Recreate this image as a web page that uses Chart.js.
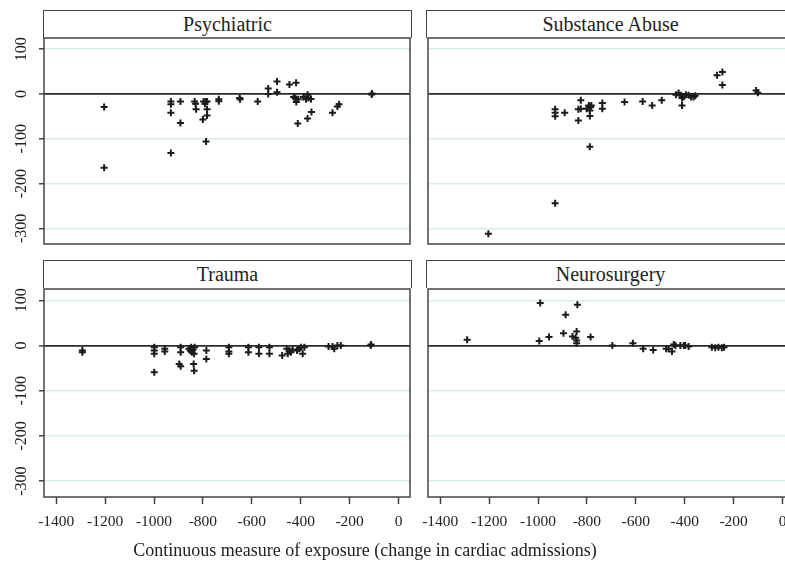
<!DOCTYPE html>
<html>
<head>
<meta charset="utf-8">
<script src="https://cdn.jsdelivr.net/npm/chart.js@4.4.1/dist/chart.umd.min.js"></script>
<style>
    html, body { margin: 0; padding: 0; background: #fff; }
    body { width: 785px; height: 564px; overflow: hidden; position: relative; font-family: "Liberation Serif", serif; color: #222; }
    canvas { position: absolute; }
    .title { position: absolute; box-sizing: border-box; border: 1.5px solid #444; border-bottom: none; height: 28px; width: 369px; text-align: center; font-size: 20px; line-height: 26px; }
    #xtitle { position: absolute; left: 0; width: 730px; top: 540px; text-align: center; font-size: 18px; }
</style>
</head>
<body>
<div class="title" style="left:43px; top:10px;">Psychiatric</div>
<div class="title" style="left:426px; top:10px;">Substance Abuse</div>
<div class="title" style="left:43px; top:260px;">Trauma</div>
<div class="title" style="left:426px; top:260px;">Neurosurgery</div>
<canvas id="psych" width="416" height="218" style="left:0; top:32px;"></canvas>
<canvas id="subst" width="378" height="218" style="left:422px; top:32px;"></canvas>
<canvas id="trauma" width="416" height="281" style="left:0; top:283px;"></canvas>
<canvas id="neuro" width="378" height="281" style="left:422px; top:283px;"></canvas>
<div id="xtitle">Continuous measure of exposure (change in cardiac admissions)</div>
<script>
// 軸
const xTicks = [-1400, -1200, -1000, -800, -600, -400, -200, 0];
const yTicks = [100, 0, -100, -200, -300];
const xMin = -1450, xMax = 47;
const yMin = -335, yMax = 125;

// Psychiatric
const psychX = [-1204, -1204, -931, -931, -931, -931, -892, -892, -834, -830, -828, -800, -797, -789, -783, -783, -783, -787, -792,
    -735, -735, -650, -648, -576, -533, -533, -497, -497, -446, -419, -429, -422, -418, -410, -412, -389, -378, -372, -368, -358,
    -372, -356, -270, -250, -243, -110, -108];
const psychY = [-29, -165, -17, -23, -42, -132, -17, -65, -17, -22, -34, -57, -17, -17, -17, -34, -48, -106, -22,
    -12, -16, -9, -12, -17, 12, 0, 28, 4, 21, 25, -7, -9, -18, -12, -66, -7, -12, -2, -9, -11,
    -55, -40, -42, -28, -23, -1, 1];

// Substance Abuse
const substX = [-1203, -930, -930, -930, -930, -891, -825, -835, -825, -835, -801, -792, -785, -782, -788, -788, -788,
    -737, -737, -646, -572, -533, -494, -436, -425, -418, -411, -404, -395, -384, -374, -364, -357, -411,
    -268, -246, -246, -108, -101];
const substY = [-312, -244, -34, -42, -50, -42, -14, -34, -33, -59, -33, -26, -29, -26, -37, -49, -118,
    -20, -33, -18, -17, -26, -14, -2, 2, -3, -9, -6, -2, -3, -7, -7, -4, -26,
    42, 49, 20, 8, 3];

// Trauma
const traumaX = [-1293, -1293, -999, -999, -999, -999, -956, -956, -891, -891, -897, -891, -857, -852, -848, -845, -840, -836,
    -834, -838, -836, -786, -786, -694, -694, -694, -614, -614, -571, -571, -528, -528, -476, -457, -453, -447, -440,
    -433, -415, -406, -399, -392, -385, -286, -270, -263, -250, -236, -114, -112];
const traumaY = [-11, -15, -4, -11, -18, -59, -7, -13, -4, -15, -41, -46, -7, -11, -4, -15, -9, -18,
    -4, -41, -56, -11, -30, -4, -13, -18, -4, -15, -4, -18, -4, -18, -22, -7, -18, -11, -15,
    -9, -11, -7, -4, -18, -4, -2, -2, -7, 0, 0, 0, 2];

// Neurosurgery
const neuroX = [-1290, -991, -995, -955, -896, -887, -859, -839, -842, -842, -842, -846, -785, -696, -612, -570, -529,
    -476, -466, -452, -445, -438, -418, -404, -398, -384, -289, -275, -262, -248, -239];
const neuroY = [13, 94, 10, 19, 27, 68, 20, 90, 31, 11, 5, 17, 19, 0, 5, -7, -10,
    -7, -7, -13, 2, 0, 0, 0, 0, -2, -4, -5, -4, -5, -4];

// 枠線
const framePlugin = {
    id: 'frame',
    afterDraw(chart) {
        const a = chart.chartArea, c = chart.ctx;
        c.save();
        c.strokeStyle = '#444';
        c.lineWidth = 1.5;
        c.strokeRect(a.left, a.top, a.right - a.left, a.bottom - a.top);
        c.restore();
    }
};

// 縦書きのY軸ラベル
const yLabelPlugin = {
    id: 'yLabels',
    afterDraw(chart) {
        const s = chart.scales.y, c = chart.ctx;
        c.save();
        c.fillStyle = '#222';
        c.font = '16px "Liberation Serif"';
        c.textAlign = 'center';
        c.textBaseline = 'middle';
        yTicks.forEach(v => {
            c.save();
            c.translate(22, s.getPixelForValue(v));
            c.rotate(-Math.PI / 2);
            c.fillText(String(v), 0, 0);
            c.restore();
        });
        c.restore();
    }
};

function makePanel(id, xs, ys, showY, showX) {
    const pts = xs.map((x, i) => ({ x: x, y: ys[i] }));
    return new Chart(document.getElementById(id), {
        type: 'scatter',
        data: {
            datasets: [{
                data: pts,
                pointStyle: 'cross',
                pointRadius: 3.5,
                borderWidth: 2,
                borderColor: '#1c1c1c',
                backgroundColor: '#1c1c1c'
            }]
        },
        options: {
            responsive: false,
            animation: false,
            events: [],
            layout: { padding: { top: 5, bottom: showX ? 0 : 5, left: showY ? 0 : 5, right: showY ? 5 : 6 } },
            plugins: { legend: { display: false }, tooltip: { enabled: false } },
            scales: {
                x: {
                    type: 'linear',
                    min: xMin,
                    max: xMax,
                    afterBuildTicks: s => { s.ticks = xTicks.map(v => ({ value: v })); },
                    afterFit: s => {
                        s.height = showX ? 67 : 0;
                        s.paddingLeft = 0;
                        s.paddingRight = 0;
                    },
                    border: { display: false },
                    grid: { display: showX, drawOnChartArea: false, drawTicks: true, tickLength: 7, tickColor: '#444', tickWidth: 1.5 },
                    ticks: {
                        display: showX,
                        padding: 9,
                        maxRotation: 0,
                        autoSkip: false,
                        color: '#222',
                        font: { family: 'Liberation Serif', size: 15.5 },
                        callback: v => String(v)
                    }
                },
                y: {
                    min: yMin,
                    max: yMax,
                    afterBuildTicks: s => { s.ticks = yTicks.map(v => ({ value: v })); },
                    afterFit: s => { s.width = showY ? 44 : 0; },
                    border: { display: false },
                    ticks: { display: false },
                    grid: {
                        color: c => c.tick.value === 0 ? '#2b2b2b' : '#d8ebee',
                        lineWidth: c => c.tick.value === 0 ? 1.8 : 1.5,
                        drawTicks: showY,
                        tickLength: 5,
                        tickColor: '#444',
                        tickWidth: 1.5
                    }
                }
            }
        },
        plugins: showY ? [framePlugin, yLabelPlugin] : [framePlugin]
    });
}

makePanel('psych', psychX, psychY, true, false);
makePanel('subst', substX, substY, false, false);
makePanel('trauma', traumaX, traumaY, true, true);
makePanel('neuro', neuroX, neuroY, false, true);
</script>
</body>
</html>
